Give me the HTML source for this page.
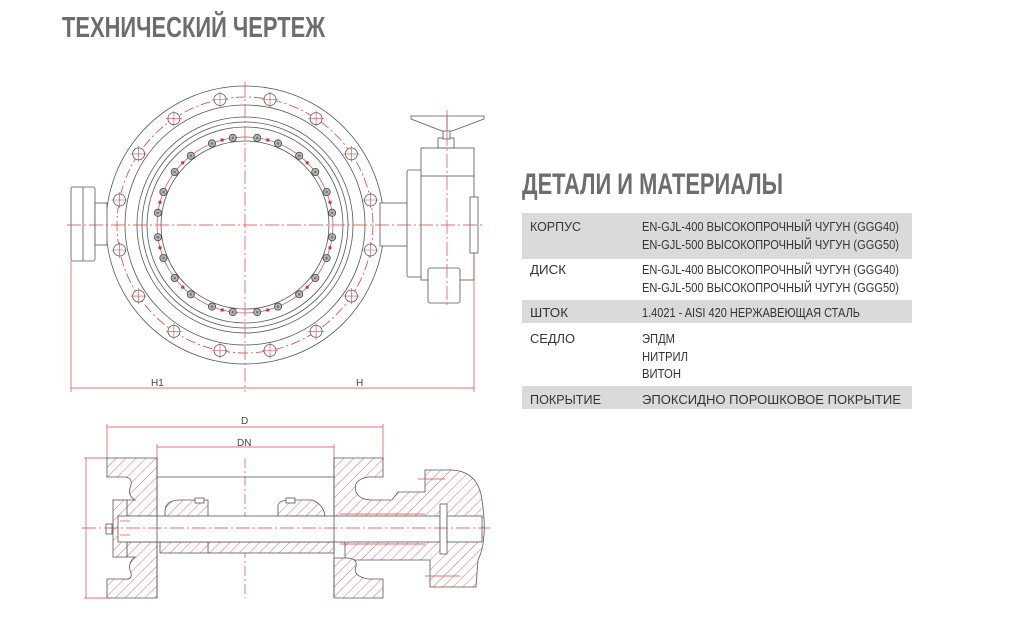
<!DOCTYPE html>
<html><head><meta charset="utf-8">
<style>
html,body{margin:0;padding:0;background:#fff;}
svg{display:block;}
.t{font-family:"Liberation Sans",sans-serif;fill:#333;font-size:13px;}
.h{font-family:"Liberation Sans",sans-serif;font-weight:bold;fill:#6d6d6d;}
</style></head>
<body>
<svg width="1009" height="617" viewBox="0 0 1009 617" xmlns="http://www.w3.org/2000/svg">
<defs>
<pattern id="hat" width="7" height="7" patternUnits="userSpaceOnUse" patternTransform="rotate(45)">
<rect width="7" height="7" fill="#fff"/><line x1="0" y1="0" x2="0" y2="7" stroke="#d44" stroke-width="0.8"/>
</pattern>
<pattern id="hat2" width="3" height="3" patternUnits="userSpaceOnUse" patternTransform="rotate(45)">
<rect width="3" height="3" fill="#fff"/><line x1="0" y1="0" x2="0" y2="3" stroke="#c33" stroke-width="0.9"/>
</pattern>
<g id="ob">
<circle r="6" fill="#fff" stroke="#555" stroke-width="0.8"/>
<path d="M-8,0H8M0,-8V8" stroke="#d44" stroke-width="0.6"/>
</g>
<g id="ib">
<circle r="3.6" fill="#b5b5b5" stroke="#444" stroke-width="0.8"/>
<circle r="1.3" fill="#777"/>
</g>
<g id="q">
<use href="#ob" x="125.5" y="25"/>
<use href="#ob" x="106.4" y="71.1"/>
<use href="#ob" x="71.1" y="106.4"/>
<use href="#ob" x="25" y="125.5"/>
<use href="#ib" x="87.1" y="12.2"/>
<use href="#ib" x="81.6" y="33"/>
<use href="#ib" x="70.3" y="53"/>
<use href="#ib" x="54.2" y="69.3"/>
<use href="#ib" x="33" y="81.6"/>
<use href="#ib" x="12.2" y="87.1"/>
<rect x="83.5" y="21.3" width="3" height="3" fill="#c33"/>
<rect x="60.7" y="60.7" width="3" height="3" fill="#c33"/>
<rect x="21.3" y="83.5" width="3" height="3" fill="#c33"/>
</g>
</defs>
<text class="h" x="62" y="37" font-size="29" textLength="263" lengthAdjust="spacingAndGlyphs">ТЕХНИЧЕСКИЙ ЧЕРТЕЖ</text>
<text class="h" x="522" y="194" font-size="30" textLength="261" lengthAdjust="spacingAndGlyphs">ДЕТАЛИ И МАТЕРИАЛЫ</text>

<rect x="522" y="213" width="390" height="46" fill="#dadada"/>
<rect x="522" y="300" width="390" height="23" fill="#dadada"/>
<rect x="522" y="386" width="390" height="23" fill="#dadada"/>
<g class="t">
<text x="530" y="231" textLength="51" lengthAdjust="spacingAndGlyphs">КОРПУС</text>
<text x="642" y="231" textLength="257" lengthAdjust="spacingAndGlyphs">EN-GJL-400 ВЫСОКОПРОЧНЫЙ ЧУГУН (GGG40)</text>
<text x="642" y="249" textLength="257" lengthAdjust="spacingAndGlyphs">EN-GJL-500 ВЫСОКОПРОЧНЫЙ ЧУГУН (GGG50)</text>
<text x="530" y="274" textLength="36" lengthAdjust="spacingAndGlyphs">ДИСК</text>
<text x="642" y="274" textLength="257" lengthAdjust="spacingAndGlyphs">EN-GJL-400 ВЫСОКОПРОЧНЫЙ ЧУГУН (GGG40)</text>
<text x="642" y="292" textLength="257" lengthAdjust="spacingAndGlyphs">EN-GJL-500 ВЫСОКОПРОЧНЫЙ ЧУГУН (GGG50)</text>
<text x="530" y="317" textLength="38" lengthAdjust="spacingAndGlyphs">ШТОК</text>
<text x="642" y="317" textLength="218" lengthAdjust="spacingAndGlyphs">1.4021 - AISI 420 НЕРЖАВЕЮЩАЯ СТАЛЬ</text>
<text x="530" y="343" textLength="45" lengthAdjust="spacingAndGlyphs">СЕДЛО</text>
<text x="642" y="343" textLength="33" lengthAdjust="spacingAndGlyphs">ЭПДМ</text>
<text x="642" y="361" textLength="46" lengthAdjust="spacingAndGlyphs">НИТРИЛ</text>
<text x="642" y="378" textLength="39" lengthAdjust="spacingAndGlyphs">ВИТОН</text>
<text x="530" y="404" textLength="71" lengthAdjust="spacingAndGlyphs">ПОКРЫТИЕ</text>
<text x="642" y="404" textLength="259" lengthAdjust="spacingAndGlyphs">ЭПОКСИДНО ПОРОШКОВОЕ ПОКРЫТИЕ</text>
</g>

<g fill="none" stroke="#555" stroke-width="0.8">
<circle cx="245" cy="225" r="139"/>
<circle cx="245" cy="225" r="120"/>
<circle cx="245" cy="225" r="108"/>
<circle cx="245" cy="225" r="103"/>
<circle cx="245" cy="225" r="98"/>
<circle cx="245" cy="225" r="84"/>
<circle cx="245" cy="225" r="128" stroke="#d44" stroke-dasharray="10 3 2 3"/>
<circle cx="245" cy="225" r="88" stroke="#d44" stroke-width="0.7"/>
<rect x="71" y="187" width="24" height="74" rx="2" fill="#fff"/>
<line x1="83" y1="187" x2="83" y2="261"/>
<rect x="95" y="203" width="12" height="42" fill="#fff"/>
<rect x="380" y="203" width="28" height="43" fill="#fff"/>
<rect x="407" y="170" width="21" height="107" rx="2" fill="#fff"/>
<rect x="421" y="175" width="53" height="105" fill="#fff"/>
<rect x="421" y="148" width="53" height="28" fill="#fff"/>
<rect x="428" y="268" width="32" height="35" rx="2" fill="#fff"/>
<rect x="470" y="197" width="8" height="56" fill="#fff"/>
<rect x="438" y="138" width="16" height="10" fill="#fff"/>
<rect x="443" y="127" width="7" height="12" fill="#fff"/>
<path d="M411,116 L484,116 L484,119 L452,131 L442,131 L411,119 Z" fill="#fff"/>
<line x1="447" y1="116" x2="447" y2="131"/>
</g>
<g transform="translate(245,225)">
<use href="#q"/>
<use href="#q" transform="scale(-1,1)"/>
<use href="#q" transform="scale(1,-1)"/>
<use href="#q" transform="scale(-1,-1)"/>
</g>
<g stroke="#d44" stroke-width="0.7" fill="none" stroke-dasharray="14 3 2 3">
<line x1="245" y1="82" x2="245" y2="392"/>
<line x1="67" y1="225" x2="485" y2="225"/>
<line x1="447" y1="110" x2="447" y2="305"/>
</g>
<g stroke="#d44" stroke-width="0.7">
<line x1="71" y1="261" x2="71" y2="392"/>
<line x1="474" y1="253" x2="474" y2="392"/>
<line x1="71" y1="388" x2="474" y2="388"/>
</g>
<text x="151" y="386" font-family="Liberation Sans,sans-serif" font-size="10" fill="#444">H1</text>
<text x="356" y="386" font-family="Liberation Sans,sans-serif" font-size="10" fill="#444">H</text>

<g stroke="#d44" stroke-width="0.7" fill="none">
<line x1="107" y1="427" x2="383" y2="427"/>
<line x1="107" y1="424" x2="107" y2="460"/>
<line x1="383" y1="424" x2="383" y2="460"/>
<line x1="157" y1="447" x2="334" y2="447"/>
<line x1="157" y1="444" x2="157" y2="460"/>
<line x1="334" y1="444" x2="334" y2="460"/>
<line x1="86" y1="458" x2="86" y2="598"/>
<line x1="84" y1="458" x2="110" y2="458"/>
<line x1="84" y1="598" x2="110" y2="598"/>
<line x1="245" y1="458" x2="245" y2="598" stroke-dasharray="10 3 2 3"/>
</g>
<text x="241" y="424" font-family="Liberation Sans,sans-serif" font-size="10" fill="#444">D</text>
<text x="237" y="446" font-family="Liberation Sans,sans-serif" font-size="10" fill="#444">DN</text>
<g stroke="#555" stroke-width="0.8" fill="url(#hat)">
<path d="M107,458 H157 V516 H127 V500 H135 Q128,496 130,488 Q134,478 125,477 H107 Z"/>
<path d="M107,598 H157 V542 H127 V557 H135 Q128,562 130,570 Q134,580 125,579 H107 Z"/>
<path d="M334,458 H383 V477 H368 Q352,480 356,492 Q360,500 372,500 H392 L398,492 H425 V470 H445 Q478,468 482,500 Q488,540 478,560 L476,587 H430 V560 H345 V542 H340 V516 H334 Z"/>
<path d="M334,598 H383 V579 H368 Q352,576 356,566 Q358,558 345,558 H334 Z"/>
<rect x="113" y="500" width="14" height="57"/>
<path d="M165,542 V512 Q165,500 180,500 H208 V542 Z"/>
<rect x="208" y="542" width="126" height="11"/>
<rect x="160" y="542" width="48" height="11"/>
<path d="M278,518 V505 Q280,500 290,500 H312 Q325,505 325,518 Z"/>
</g>
<path d="M285,516 Q295,530 312,526 Q325,522 326,516 Z" fill="url(#hat2)" stroke="#c33" stroke-width="0.6"/>
<g stroke="#555" stroke-width="0.8" fill="none">
<rect x="118" y="516" width="322" height="26" fill="#fff"/>
<line x1="157" y1="477" x2="334" y2="477"/>
<line x1="157" y1="458" x2="157" y2="598"/>
<line x1="334" y1="458" x2="334" y2="598"/>
<rect x="440" y="504" width="7" height="50" fill="#fff"/>
<rect x="447" y="516" width="35" height="26" fill="#fff"/>
<rect x="195" y="498" width="9" height="5" fill="#fff"/>
<rect x="286" y="498" width="9" height="5" fill="#fff"/>
<rect x="106" y="524" width="6" height="10" fill="#fff"/>
<line x1="340" y1="514" x2="425" y2="514" stroke="#d44"/>
<line x1="340" y1="544" x2="425" y2="544" stroke="#d44"/>
</g>
<g stroke="#d44" stroke-width="0.7">
<line x1="418" y1="479" x2="445" y2="479"/>
<line x1="425" y1="576" x2="460" y2="576"/>
<line x1="120" y1="521" x2="130" y2="521"/>
<line x1="120" y1="535" x2="130" y2="535"/>
</g>
<line x1="82" y1="528" x2="490" y2="528" stroke="#d44" stroke-width="0.7" stroke-dasharray="14 3 2 3"/>
</svg>
</body></html>
